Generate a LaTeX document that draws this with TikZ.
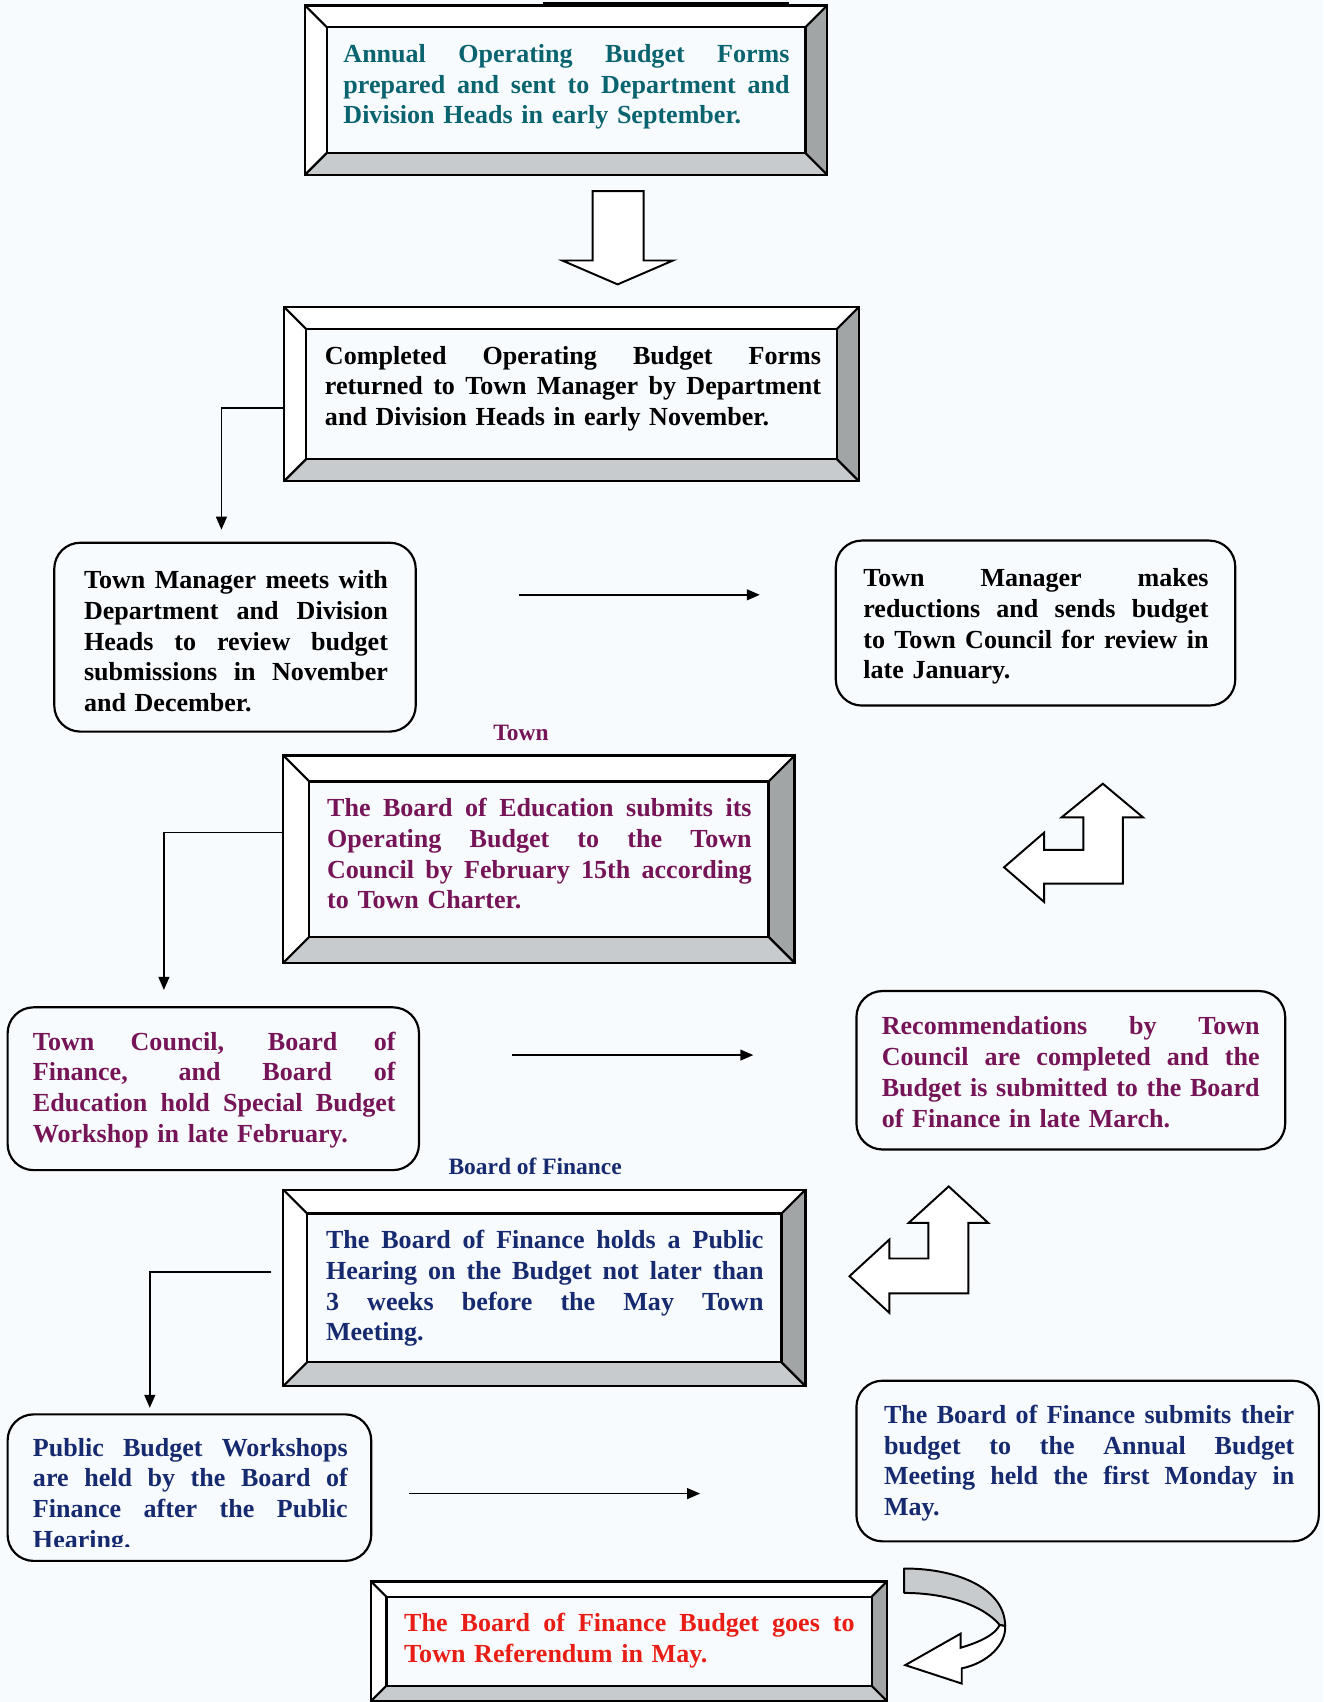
\documentclass[tikz,border=0pt]{standalone}
\usepackage{fontspec}
\setmainfont{Liberation Serif}
\usetikzlibrary{fit,calc,arrows.meta}
\setlength{\parindent}{0pt}
\definecolor{bgc}{RGB}{248,251,253}
\definecolor{tealc}{RGB}{10,100,112}
\definecolor{purc}{RGB}{118,20,88}
\definecolor{navc}{RGB}{22,42,112}
\definecolor{redc}{RGB}{232,30,22}
\definecolor{facetR}{RGB}{162,165,166}
\definecolor{facetB}{RGB}{200,203,205}
\newlength{\jw}
\newcommand{\jl}[1]{\hbox to \jw{\spaceskip=0.25em plus 3em minus 0.05em #1}\newline}
\newcommand{\bevelbox}[2]{%
 \fill[white] (#1.north west) -- (#1.north east) -- ([shift={(-#2,-#2)}]#1.north east) -- ([shift={(#2,-#2)}]#1.north west) -- ([shift={(#2,#2)}]#1.south west) -- (#1.south west) -- cycle;
 \fill[facetR] (#1.north east) -- (#1.south east) -- ([shift={(-#2,#2)}]#1.south east) -- ([shift={(-#2,-#2)}]#1.north east) -- cycle;
 \fill[facetB] (#1.south west) -- (#1.south east) -- ([shift={(-#2,#2)}]#1.south east) -- ([shift={(#2,#2)}]#1.south west) -- cycle;
 \draw[bevline] (#1.north west) rectangle (#1.south east);
 \draw[bevline] ([shift={(#2,-#2)}]#1.north west) rectangle ([shift={(-#2,#2)}]#1.south east);
 \draw[bevline] (#1.north west) -- ([shift={(#2,-#2)}]#1.north west);
 \draw[bevline] (#1.north east) -- ([shift={(-#2,-#2)}]#1.north east);
 \draw[bevline] (#1.south west) -- ([shift={(#2,#2)}]#1.south west);
 \draw[bevline] (#1.south east) -- ([shift={(-#2,#2)}]#1.south east);
}
\begin{document}
\begin{tikzpicture}[x=0.5pt,y=-0.5pt,
  frame/.style={inner sep=0pt, outer sep=0pt},
  txt/.style={anchor=north west, inner sep=0pt, align=left, font=\fontsize{12}{14.15}\selectfont\bfseries},
  tw/.style={text width=#1, execute at begin node={\setlength{\jw}{#1}}},
  rbox/.style={draw, line width=1pt, rounded corners=12pt, inner sep=0pt, outer sep=0pt},
  conn/.style={line width=0.75pt, -{Triangle[length=6pt,width=5pt]}},
  bevline/.style={line width=1pt, line join=miter},
  blockarrow/.style={draw, line width=0.9pt, fill=white, line join=miter},
  lbl/.style={font=\fontsize{10.8}{12}\selectfont\bfseries, anchor=base, inner sep=0pt}]
\fill[bgc] (0,0) rectangle (1219,1568);
\useasboundingbox (0,0) rectangle (1219,1568);

% title fragment (underline)
\draw[line width=1.2pt] (500,3) -- (727,3);

% Box 1
\node[frame, fit={(281,5) (762,161)}] (b1) {};
\bevelbox{b1}{10pt}
\node[txt, tw=205.5pt, text=tealc] (t1) at (316,37) {\rule{0pt}{10pt}\jl{Annual Operating Budget Forms}\jl{prepared and sent to Department and}Division Heads in early September.};

% block arrow down
\draw[blockarrow] (546,176) -- (593,176) -- (593,240) -- (620,240) -- (569,262) -- (518,240) -- (546,240) -- cycle;

% Box 2
\node[frame, fit={(262,283) (791,443)}] (b2) {};
\bevelbox{b2}{10pt}
\node[txt, tw=228.5pt, text=black] (t2) at (299,315) {\rule{0pt}{10pt}\jl{Completed Operating Budget Forms}\jl{returned to Town Manager by Department}and Division Heads in early November.};

% Box 3
\node[rbox, fit={(50,500) (383,674)}] (b3) {};
\node[txt, tw=140pt, text=black] (t3) at (77,522) {\rule{0pt}{10pt}\jl{Town Manager meets with}\jl{Department and Division}\jl{Heads to review budget}\jl{submissions in November}and December.};

% Box 4
\node[rbox, fit={(770,498) (1138,650)}] (b4) {};
\node[txt, tw=159pt, text=black] (t4) at (795,520) {\rule{0pt}{10pt}\jl{Town Manager makes}\jl{reductions and sends budget}\jl{to Town Council for review in}late January.};

\coordinate (a1s) at (478,548);
\coordinate (a1e) at (700,548);
\draw[conn] (a1s) -- (a1e);
\draw[conn] ($(b2.west)+(0,13)$) -| ($(b3.north)+(-12.5,-12)$);

% label Town
\node[lbl, text=purc] (lt) at (480,682) {Town};

% Box 5
\node[frame, fit={(261,696) (732,887)}] (b5) {};
\bevelbox{b5}{12pt}
\node[txt, tw=195.5pt, text=purc] (t5) at (301,732) {\rule{0pt}{10pt}\jl{The Board of Education submits its}\jl{Operating Budget to the Town}\jl{Council by February 15th according}to Town Charter.};

% bent arrow 1
\draw[blockarrow] (1016,722) -- (1053,753) -- (1034.5,753) -- (1034.5,814) -- (962,814) -- (962,831) -- (925,799) -- (962,767) -- (962,783) -- (998,783) -- (998,753) -- (978,753) -- cycle;

% Box 6
\node[rbox, fit={(7,928) (386,1078)}] (b6) {};
\node[txt, tw=167pt, text=purc] (t6) at (30,947) {\rule{0pt}{10pt}\jl{Town Council, Board of}\jl{Finance, and Board of}\jl{Education hold Special Budget}Workshop in late February.};

% Box 7
\node[rbox, fit={(789,913) (1184,1059)}] (b7) {};
\node[txt, tw=174pt, text=purc] (t7) at (812,933) {\rule{0pt}{10pt}\jl{Recommendations by Town}\jl{Council are completed and the}\jl{Budget is submitted to the Board}of Finance in late March.};

\coordinate (a2s) at (472,972);
\coordinate (a2e) at (694,972);
\draw[conn] (a2s) -- (a2e);
\draw[conn] ($(b5.west)+(0,-24.5)$) -| ($(b6.north)+(-45.5,-16)$);

% label Board of Finance
\node[lbl, text=navc] (lb) at (493,1082) {Board of Finance};

% Box 8
\node[frame, fit={(261,1096) (742,1277)}] (b8) {};
\bevelbox{b8}{11pt}
\node[txt, tw=201.5pt, text=navc] (t8) at (300,1130) {\rule{0pt}{10pt}\jl{The Board of Finance holds a Public}\jl{Hearing on the Budget not later than}\jl{3 weeks before the May Town}Meeting.};

% bent arrow 2
\draw[blockarrow] (874,1093) -- (910.4,1126.6) -- (892.2,1126.6) -- (892.2,1191.6) -- (819.4,1191.6) -- (819.4,1209.5) -- (782.6,1175.7) -- (819.4,1141.9) -- (819.4,1159.4) -- (855.3,1159.4) -- (855.3,1126.6) -- (837.1,1126.6) -- cycle;

% Box 9
\node[rbox, fit={(7,1303) (342,1438)}] (b9) {};
\begin{scope}
\clip (7,1303) rectangle (342,1425);
\node[txt, tw=145pt, text=navc] (t9) at (30,1321) {\rule{0pt}{10pt}\jl{Public Budget Workshops}\jl{are held by the Board of}\jl{Finance after the Public}Hearing.};
\end{scope}

% Box 10
\node[rbox, fit={(789,1272) (1215,1420)}] (b10) {};
\node[txt, tw=189pt, text=navc] (t10) at (814,1291) {\rule{0pt}{10pt}\jl{The Board of Finance submits their}\jl{budget to the Annual Budget}\jl{Meeting held the first Monday in}May.};

\coordinate (a3s) at (377,1376);
\coordinate (a3e) at (645,1376);
\draw[conn] (a3s) -- (a3e);
\draw[conn] ($(b8.west)+(-11,-14.5)$) -| ($(b9.north)+(-36.5,-6)$);

% Box 11
\node[frame, fit={(342,1457) (817,1567)}] (b11) {};
\bevelbox{b11}{7pt}
\node[txt, tw=207.5pt, text=redc] (t11) at (372,1483) {\rule{0pt}{10pt}\jl{The Board of Finance Budget goes to}Town Referendum in May.};

% curved arrow
\draw[line width=0.9pt, fill=facetB, line join=round] (833,1445) .. controls (885,1445) and (926,1465) .. (926,1498) -- (921,1497) .. controls (905,1478) and (870,1467.5) .. (833,1467.5) -- cycle;
\draw[line width=0.9pt, fill=white, line join=miter] (926,1498) .. controls (927,1515) and (910,1532) .. (886,1537) -- (886,1551) -- (834,1534) -- (885,1505) -- (885,1518) .. controls (902,1513) and (917,1506) .. (921,1497) -- cycle;
\end{tikzpicture}
\end{document}
